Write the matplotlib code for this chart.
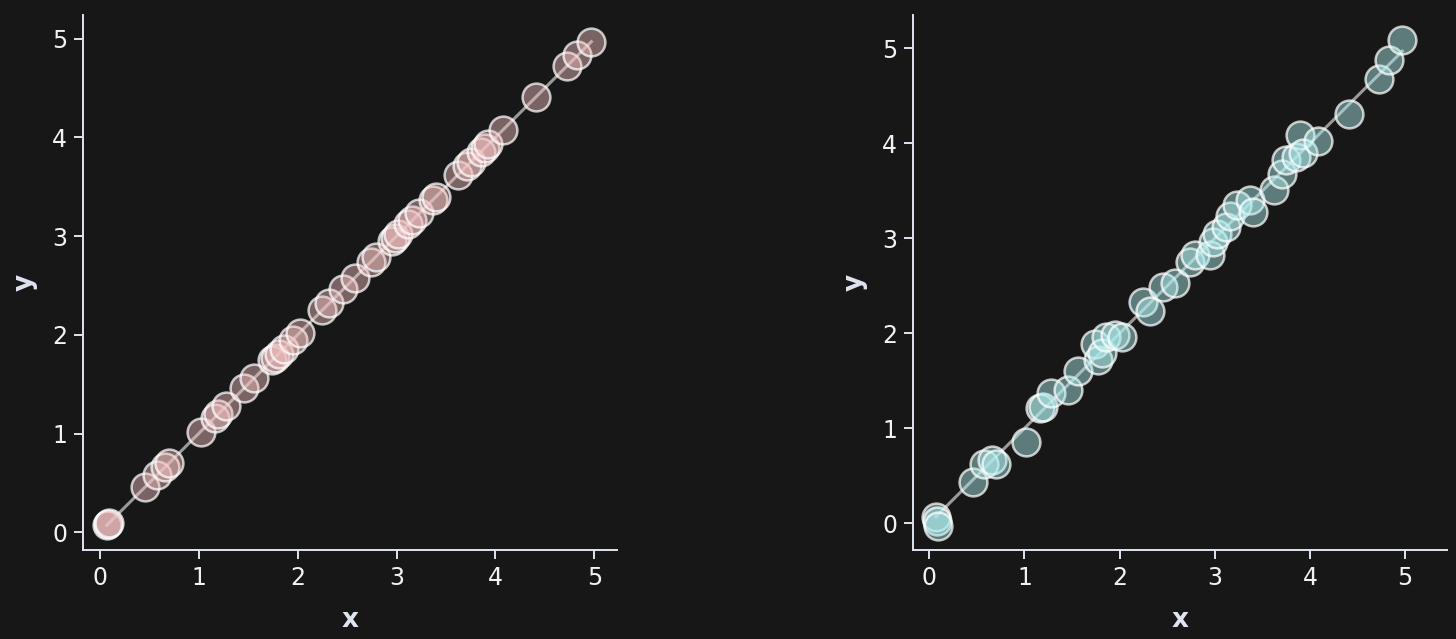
import matplotlib
matplotlib.use("Agg")
import matplotlib.pyplot as plt
import numpy as np

# shared x values
x_vals = [0.07, 0.08, 0.09, 0.46, 0.58, 0.66, 0.70, 1.02, 1.16, 1.20, 1.28,
          1.46, 1.56, 1.74, 1.77, 1.81, 1.86, 1.95, 2.02, 2.25, 2.32, 2.46,
          2.58, 2.74, 2.79, 2.95, 2.98, 3.02, 3.12, 3.16, 3.23, 3.37, 3.40,
          3.62, 3.71, 3.75, 3.85, 3.89, 3.93, 4.08, 4.41, 4.72, 4.83, 4.97]
# left panel: y equals x
y_left = list(x_vals)
# right panel: y with a little noise
y_right = [0.07, 0.02, -0.03, 0.44, 0.63, 0.67, 0.62, 0.86, 1.21, 1.23, 1.37,
           1.40, 1.60, 1.89, 1.72, 1.79, 1.96, 1.98, 1.96, 2.33, 2.23, 2.49,
           2.53, 2.75, 2.82, 2.82, 2.96, 3.05, 3.12, 3.23, 3.35, 3.40, 3.28,
           3.51, 3.68, 3.82, 3.86, 4.09, 3.90, 4.02, 4.31, 4.68, 4.88, 5.09]

BG = '#171717'
SPINE = '#e0e3f0'


def style_axes(ax):
    ax.set_facecolor(BG)
    for side in ('top', 'right'):
        ax.spines[side].set_visible(False)
    for side in ('left', 'bottom'):
        ax.spines[side].set_color(SPINE)
        ax.spines[side].set_linewidth(1.4)
    ax.tick_params(colors=SPINE, labelcolor='#f2f2f2', labelsize=17,
                   length=6.5, width=1.4, pad=5)
    ax.set_xticks([0, 1, 2, 3, 4, 5])
    ax.set_yticks([0, 1, 2, 3, 4, 5])
    ax.set_xlabel("x", fontsize=19, fontweight='bold', color=SPINE, labelpad=12)
    ax.set_ylabel("y", fontsize=19, fontweight='bold', color=SPINE, labelpad=10)


def draw_panel(ax, x, y, face):
    x = np.array(x)
    ax.plot([x.min(), x.max()], [x.min(), x.max()], color='#9a9a9a',
            linewidth=2.2, zorder=1)
    ax.scatter(x, y, s=400, facecolors=[face], edgecolors=[(1, 1, 1, 0.72)],
               linewidths=1.8, zorder=2)


def main():
    fig = plt.figure(figsize=(14.56, 6.39), dpi=100)
    fig.patch.set_facecolor(BG)

    ax1 = fig.add_axes([0.0570, 0.1393, 0.3668, 0.8372])
    ax2 = fig.add_axes([0.6271, 0.1393, 0.3668, 0.8372])

    draw_panel(ax1, x_vals, y_left, (0.957, 0.761, 0.761, 0.45))
    draw_panel(ax2, x_vals, y_right, (0.69, 0.93, 0.93, 0.47))

    for ax in (ax1, ax2):
        style_axes(ax)

    ax1.set_xlim(-0.17, 5.23)
    ax1.set_ylim(-0.18, 5.24)
    ax2.set_xlim(-0.17, 5.44)
    ax2.set_ylim(-0.28, 5.35)

    fig.savefig("out.png", dpi=100, facecolor=BG)


if __name__ == "__main__":
    main()
